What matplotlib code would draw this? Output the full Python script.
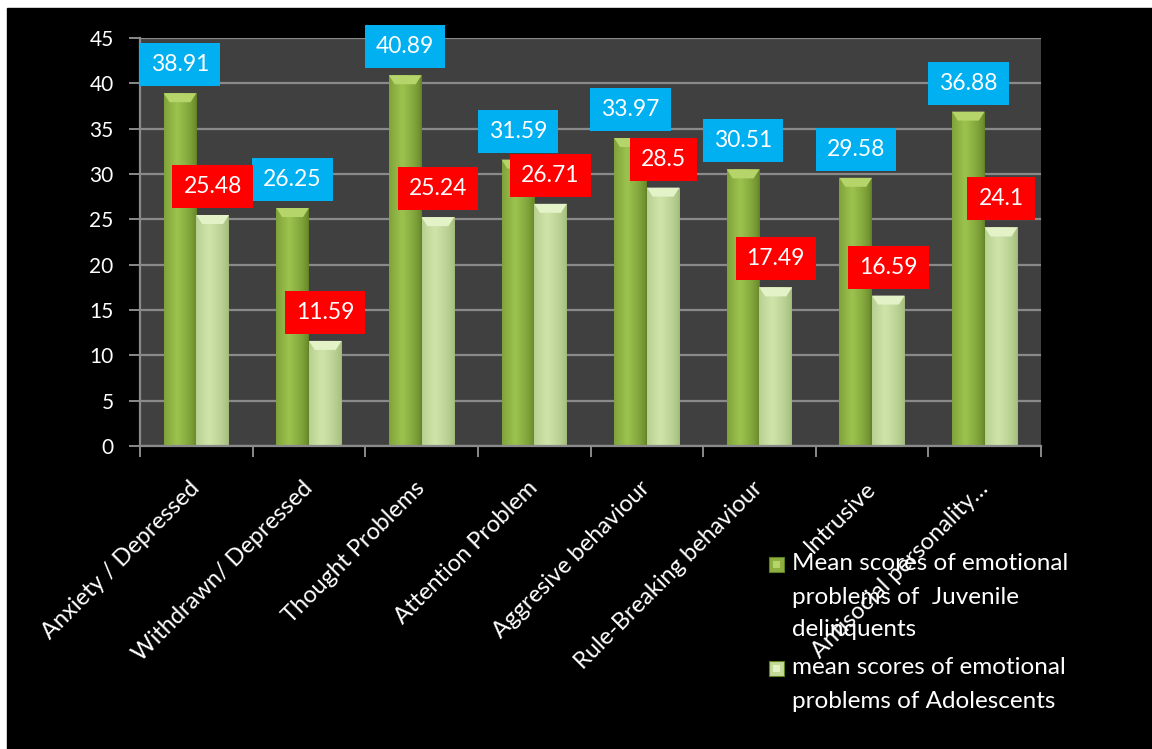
import numpy as np
import matplotlib
matplotlib.use("Agg")
import matplotlib.pyplot as plt
from matplotlib.patches import Rectangle, Polygon
from matplotlib.ticker import MultipleLocator
from matplotlib.colors import to_rgb

plt.rcParams['font.family'] = ['Lato', 'DejaVu Sans']

categories = ['Anxiety / Depressed', 'Withdrawn/ Depressed', 'Thought Problems',
              'Attention Problem', 'Aggresive behaviour', 'Rule-Breaking behaviour',
              'Intrusive', 'Antisocial personality…']
juvenile = [38.91, 26.25, 40.89, 31.59, 33.97, 30.51, 29.58, 36.88]
adolescents = [25.48, 11.59, 25.24, 26.71, 28.5, 17.49, 16.59, 24.1]
series_names = ['Mean scores of emotional\nproblems of  Juvenile\ndelinquents',
                'mean scores of emotional\nproblems of Adolescents']

W, H = 1152, 749
fig = plt.figure(figsize=(W / 100, H / 100), dpi=100)
fig.patch.set_facecolor('white')
fig.add_artist(Rectangle((7 / W, 0), 1, 1 - 8 / H, transform=fig.transFigure,
                         color='black', zorder=-10))

ax = fig.add_axes([140 / W, 1 - 446 / H, 901 / W, 408 / H])
ax.set_facecolor('#404040')
ax.set_xlim(-0.5, 7.5)
ax.set_ylim(0, 45)
ax.yaxis.set_major_locator(MultipleLocator(5))
ax.grid(axis='y', color='#8a8a8a', lw=1.6, zorder=0)
ax.set_axisbelow(True)
for s in ['top', 'right']:
    ax.spines[s].set_visible(False)
for s in ['left', 'bottom']:
    ax.spines[s].set_color('#8a8a8a')
    ax.spines[s].set_linewidth(1.6)

ax.tick_params(axis='y', colors='#8a8a8a', labelcolor='white', labelsize=15,
               length=8, width=1.4, pad=11)
x = np.arange(len(categories))
ax.set_xticks(x)
ax.set_xticks(np.arange(-0.5, len(categories)), minor=True)
ax.tick_params(axis='x', which='major', length=0, pad=28)
ax.tick_params(axis='x', which='minor', length=8, width=1.4, colors='#8a8a8a')
ax.set_xticklabels(categories, rotation=45, ha='right', va='center',
                   rotation_mode='anchor', color='white', fontsize=17)

w = 0.29
px_per_unit = ax.bbox.height / 45


def shaded(rects, edge, mid, top):
    edge, mid = np.array(to_rgb(edge)), np.array(to_rgb(mid))
    t = np.linspace(0, 1, 64)
    k = np.clip(1 - np.abs(t - 0.4) / 0.6, 0, 1) ** 0.6
    img = (edge[None, :] * (1 - k[:, None]) + mid[None, :] * k[:, None])[None, :, :]
    d = 9 / px_per_unit
    for r in rects:
        x0, bw, h = r.get_x(), r.get_width(), r.get_height()
        im = ax.imshow(img, extent=[x0, x0 + bw, 0, h], aspect='auto',
                       interpolation='bilinear', zorder=2)
        im.set_clip_path(r)
        ax.add_patch(Polygon([(x0, h), (x0 + bw, h), (x0 + bw * 0.82, h - d),
                              (x0 + bw * 0.18, h - d)], closed=True,
                             fc=top, ec='none', zorder=3))


b1 = ax.bar(x - w / 2, juvenile, w, color='#8db040', edgecolor='none', zorder=2)
b2 = ax.bar(x + w / 2, adolescents, w, color='#c3da98', edgecolor='none', zorder=2)
shaded(b1, '#5f7f24', '#9cc24e', '#b5d46a')
shaded(b2, '#9fb87a', '#cfe4a8', '#e4f2c8')
ax.set_xlim(-0.5, 7.5)
ax.set_ylim(0, 45)

for bars, vals, fc in [(b1, juvenile, '#00b0f0'), (b2, adolescents, '#ff0000')]:
    for r, v in zip(bars, vals):
        ax.annotate(f'{v:g}', xy=(r.get_x() + r.get_width() / 2, v),
                    xytext=(0, 18), textcoords='offset pixels', ha='center',
                    va='bottom', color='white', fontsize=16.5, zorder=6,
                    bbox=dict(boxstyle='square,pad=0.48', fc=fc, ec='none'))

# legend drawn by hand so the marker sits on the first line of each label
legend_cols = [('#8db040', '#b5d46a'), ('#c3da98', '#e4f2c8')]
y0 = [564, 668]
for name, (c, ctop), yy in zip(series_names, legend_cols, y0):
    mx, my = 769 / W, 1 - (yy + 8) / H
    fig.add_artist(Rectangle((mx, my), 15 / W, 15 / H,
                             transform=fig.transFigure, fc=c, ec='#5f7f24', lw=0.8))
    fig.add_artist(Rectangle((mx + 4 / W, my + 4 / H), 7 / W, 7 / H,
                             transform=fig.transFigure, fc=ctop, ec='none'))
    for i, line in enumerate(name.split('\n')):
        fig.text(792 / W, 1 - (yy + 33 * i) / H, line, color='white',
                 fontsize=17.5, va='center', ha='left')

fig.savefig('out.png', dpi=100, facecolor=fig.get_facecolor())
